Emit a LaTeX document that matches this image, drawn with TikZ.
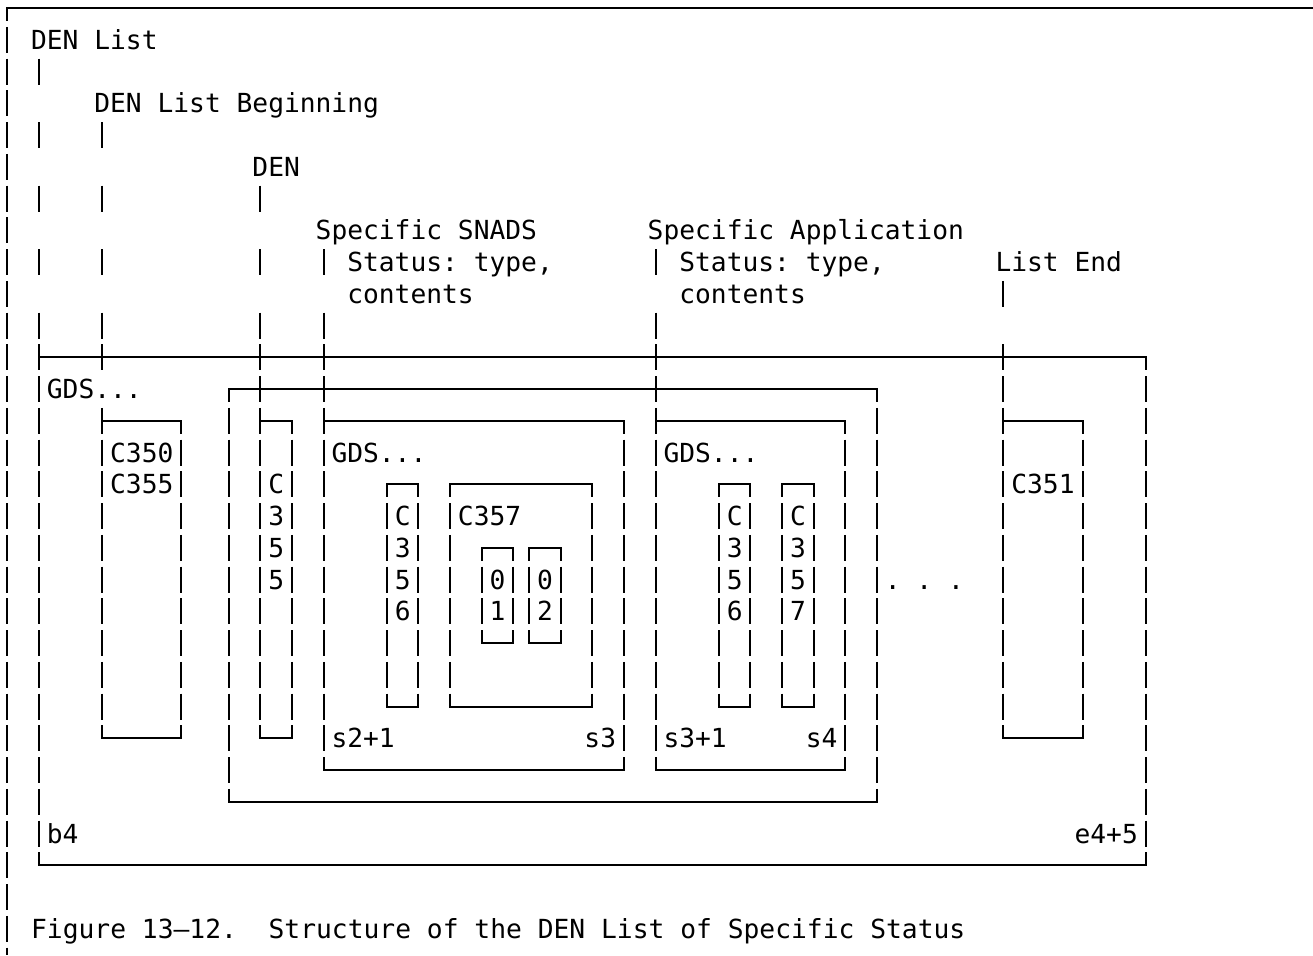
\documentclass[tikz,border=0pt]{standalone}
\usepackage{fontspec}
\setmonofont{DejaVu Sans Mono}
\usetikzlibrary{fit}
\tikzset{
  hl/.style={line width=1pt, line cap=rect},
  vb/.style={line width=1pt, dash pattern=on 13pt off 2.875pt, dash phase=6.5pt},
  boxarea/.style={inner sep=0pt, outer sep=0pt, draw=none},
  txt/.style={anchor=base west, inner sep=0pt, outer sep=0pt, yshift=-4.75pt, font=\fontsize{13.13pt}{15.875pt}\ttfamily},
  captxt/.style={anchor=base west, inner sep=0pt, outer sep=0pt, yshift=-4.75pt, font=\fontsize{13.15pt}{15.875pt}\ttfamily},
  ptr/.style={line width=1pt},
}
\newcommand\mkbox[5]{%
  \coordinate (#1-nw) at (#2,#3);
  \coordinate (#1-se) at (#4,#5);
  \node[boxarea, fit=(#1-nw)(#1-se)] (#1) {};
  \draw[hl] (#1.north west) -- (#1.north east);
  \draw[hl] (#1.south west) -- (#1.south east);
  \draw[vb] (#1.north west) -- (#1.south west);
  \draw[vb] (#1.north east) -- (#1.south east);
}
\begin{document}
\begin{tikzpicture}[x=7.905pt, y=-15.875pt]
\useasboundingbox (-0.468,-0.252) rectangle (82.58,29.83);
\fill[white] (-0.468,-0.252) rectangle (82.58,29.83);

% outer frame (top line and left border)
\coordinate (ftl) at (0,0);
\coordinate (ftr) at (82.58,0);
\coordinate (fbl) at (0,29.83);
\draw[hl] (ftl) -- (ftr);
\draw[vb] (ftl) -- (fbl);

% boxes
\mkbox{main}{2}{11}{72}{27}
\mkbox{grp}{14}{12}{55}{25}
\mkbox{c350}{6}{13}{11}{23}
\mkbox{c355}{16}{13}{18}{23}
\mkbox{snads}{20}{13}{39}{24}
\mkbox{sc356}{24}{15}{26}{22}
\mkbox{c357}{28}{15}{37}{22}
\mkbox{o1}{30}{17}{32}{20}
\mkbox{o2}{33}{17}{35}{20}
\mkbox{app}{41}{13}{53}{24}
\mkbox{ac356}{45}{15}{47}{22}
\mkbox{ac357}{49}{15}{51}{22}
\mkbox{c351}{63}{13}{68}{23}

% labels above
\node[txt] (lDenList) at (1.5,1) {DEN List};
\node[txt] (lBegin) at (5.5,3) {DEN List Beginning};
\node[txt] (lDen) at (15.5,5) {DEN};
\node[txt] (lSnads) at (19.5,7) {Specific SNADS};
\node[txt] (lSnads2) at (21.5,8) {Status: type,};
\node[txt] (lSnads3) at (21.5,9) {contents};
\node[txt] (lApp) at (40.5,7) {Specific Application};
\node[txt] (lApp2) at (42.5,8) {Status: type,};
\node[txt] (lApp3) at (42.5,9) {contents};
\node[txt] (lEnd) at (62.5,8) {List End};

% pointer connectors
\coordinate (pDenList) at ([yshift=6.5pt]2,2);
\coordinate (pBegin) at ([yshift=6.5pt]6,4);
\coordinate (pDen) at ([yshift=6.5pt]16,6);
\coordinate (pSnads) at ([yshift=6.5pt]20,8);
\coordinate (pApp) at ([yshift=6.5pt]41,8);
\coordinate (pEnd) at ([yshift=6.5pt]63,9);
\draw[ptr, dash pattern=on 13pt off 18.75pt on 13pt off 18.75pt on 13pt off 18.75pt on 13pt off 18.75pt on 13pt off 2.875pt on 6.5pt off 60pt] (pDenList) -- (main.north west);
\draw[ptr, dash pattern=on 13pt off 18.75pt on 13pt off 18.75pt on 13pt off 18.75pt on 13pt off 2.875pt on 13pt off 18.75pt on 6.5pt off 60pt] (pBegin) -- (c350.north west);
\draw[ptr, dash pattern=on 13pt off 18.75pt on 13pt off 18.75pt on 13pt off 2.875pt on 13pt off 2.875pt on 13pt off 2.875pt on 6.5pt off 60pt] (pDen) -- (c355.north west);
\draw[ptr, dash pattern=on 13pt off 18.75pt on 13pt off 2.875pt on 13pt off 2.875pt on 13pt off 2.875pt on 6.5pt off 60pt] (pSnads) -- (snads.north west);
\draw[ptr, dash pattern=on 13pt off 18.75pt on 13pt off 2.875pt on 13pt off 2.875pt on 13pt off 2.875pt on 6.5pt off 60pt] (pApp) -- (app.north west);
\draw[ptr, dash pattern=on 13pt off 18.75pt on 13pt off 2.875pt on 13pt off 2.875pt on 6.5pt off 60pt] (pEnd) -- (c351.north west);

% texts inside boxes
\node[txt] (gdsMain) at (2.5,12) {GDS...};
\node[txt] (t350) at (6.5,14) {C350};
\node[txt] (t355) at (6.5,15) {C355};
\foreach \ch [count=\i] in {C,3,5,5} \node[txt] (v355-\i) at (16.5,14+\i) {\ch};
\node[txt] (gdsSnads) at (20.5,14) {GDS...};
\foreach \ch [count=\i] in {C,3,5,6} \node[txt] (sv356-\i) at (24.5,15+\i) {\ch};
\node[txt] (t357) at (28.5,16) {C357};
\node[txt] (o1a) at (30.5,18) {0};
\node[txt] (o1b) at (30.5,19) {1};
\node[txt] (o2a) at (33.5,18) {0};
\node[txt] (o2b) at (33.5,19) {2};
\node[txt] (s21) at (20.5,23) {s2+1};
\node[txt] (s3) at (36.5,23) {s3};
\node[txt] (gdsApp) at (41.5,14) {GDS...};
\foreach \ch [count=\i] in {C,3,5,6} \node[txt] (av356-\i) at (45.5,15+\i) {\ch};
\foreach \ch [count=\i] in {C,3,5,7} \node[txt] (av357-\i) at (49.5,15+\i) {\ch};
\node[txt] (s31) at (41.5,23) {s3+1};
\node[txt] (s4) at (50.5,23) {s4};
\node[txt] (dots) at (55.5,18) {. . .};
\node[txt] (t351) at (63.5,15) {C351};
\node[txt] (b4) at (2.5,26) {b4};
\node[txt] (e45) at (67.5,26) {e4+5};

% caption
\node[captxt] (cap) at (1.5,29) {Figure 13–12.~ Structure of the DEN List of Specific Status};
\end{tikzpicture}
\end{document}
